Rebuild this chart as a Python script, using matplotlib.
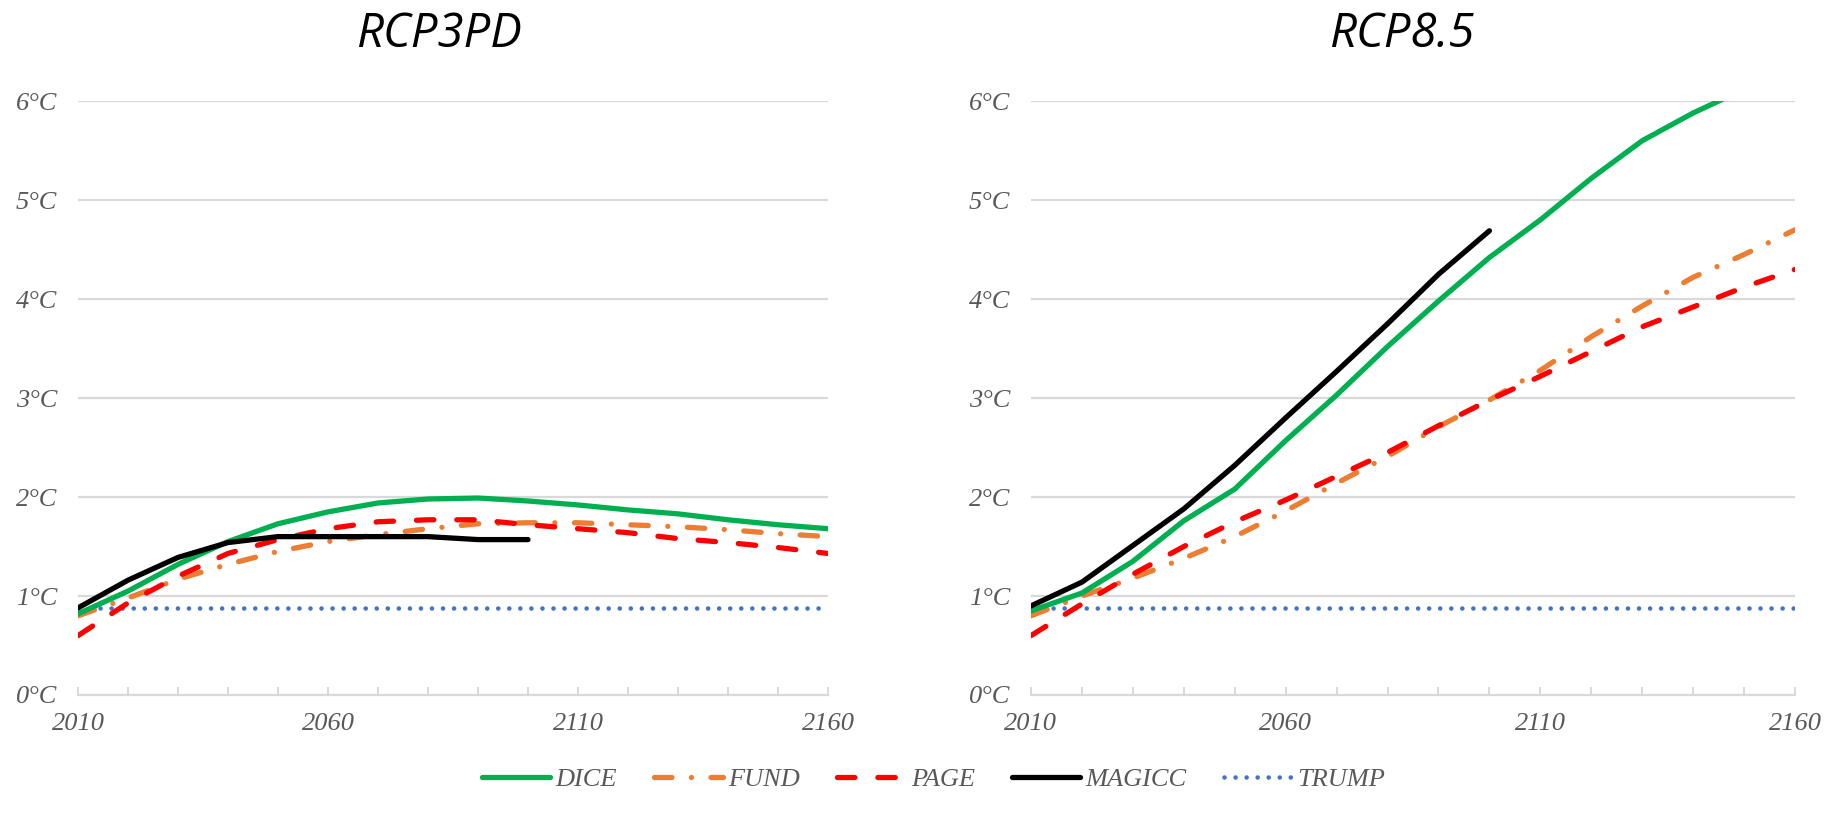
import numpy as np
import matplotlib
matplotlib.use("Agg")
import matplotlib.pyplot as plt
from matplotlib.lines import Line2D

# years on the x axis (decadal values)
years = np.arange(2010, 2161, 10)

# warming under RCP3PD (°C)
dice_3pd = [0.82, 1.05, 1.32, 1.55, 1.73, 1.85, 1.94, 1.98, 1.99, 1.96, 1.92, 1.87, 1.83, 1.77, 1.72, 1.68]
fund_3pd = [0.80, 0.98, 1.17, 1.32, 1.45, 1.55, 1.62, 1.68, 1.73, 1.74, 1.74, 1.72, 1.70, 1.67, 1.63, 1.60]
page_3pd = [0.60, 0.93, 1.20, 1.43, 1.57, 1.68, 1.75, 1.77, 1.77, 1.72, 1.68, 1.64, 1.58, 1.54, 1.49, 1.43]
magicc_3pd = [0.88, 1.16, 1.39, 1.54, 1.60, 1.60, 1.60, 1.60, 1.57, 1.57] + [np.nan] * 6

# warming under RCP8.5 (°C)
dice_85 = [0.85, 1.03, 1.35, 1.76, 2.08, 2.57, 3.03, 3.52, 3.98, 4.42, 4.80, 5.22, 5.60, 5.88, 6.12, np.nan]
fund_85 = [0.80, 1.00, 1.18, 1.38, 1.60, 1.86, 2.14, 2.41, 2.71, 2.98, 3.28, 3.62, 3.93, 4.22, 4.45, 4.70]
page_85 = [0.60, 0.92, 1.22, 1.50, 1.75, 1.97, 2.21, 2.45, 2.72, 2.98, 3.22, 3.47, 3.72, 3.92, 4.12, 4.30]
magicc_85 = [0.90, 1.14, 1.51, 1.88, 2.32, 2.80, 3.27, 3.75, 4.25, 4.69] + [np.nan] * 6

# TRUMP is flat in both scenarios
trump = [0.88] * len(years)

titles = ["RCP3PD", "RCP8.5"]
ytick_vals = [0, 1, 2, 3, 4, 5, 6]
ytick_labels = ["%d°C" % v for v in ytick_vals]
xtick_major = [2010, 2060, 2110, 2160]

grey = "#D9D9D9"
label_col = "#595959"
serif = ["Liberation Serif", "DejaVu Serif"]
title_font = ["Liberation Sans Narrow", "Open Sans", "DejaVu Sans"]

styles = {
    "DICE": dict(color="#00B050", ls="-", lw=3.8),
    "FUND": dict(color="#ED7D31", ls=(0, (3.3, 3.7, 0.01, 3.7)), lw=3.8),
    "PAGE": dict(color="#FF0000", ls=(0, (3.3, 4.35)), lw=3.8),
    "MAGICC": dict(color="black", ls="-", lw=3.8),
    "TRUMP": dict(color="#4472C4", ls=(0, (0.01, 2.4)), lw=3.3),
}

fig = plt.figure(figsize=(18.27, 8.26), dpi=100)
ax1 = fig.add_axes([0.0427, 0.1586, 0.4105, 0.719])
ax2 = fig.add_axes([0.5643, 0.1586, 0.4182, 0.719])

panels = [
    (ax1, {"DICE": dice_3pd, "FUND": fund_3pd, "PAGE": page_3pd, "MAGICC": magicc_3pd, "TRUMP": trump}),
    (ax2, {"DICE": dice_85, "FUND": fund_85, "PAGE": page_85, "MAGICC": magicc_85, "TRUMP": trump}),
]

for ax, series in panels:
    for y in ytick_vals[1:]:
        ax.axhline(y, color=grey, lw=1.6, zorder=0)
    for name in ["TRUMP", "FUND", "PAGE", "DICE", "MAGICC"]:
        st = styles[name]
        ax.plot(years, series[name], color=st["color"], linestyle=st["ls"], lw=st["lw"],
                dash_capstyle="round", solid_capstyle="round", zorder=3)
    ax.set_xlim(2010, 2160)
    ax.set_ylim(0, 6)
    for s in ["top", "right", "left"]:
        ax.spines[s].set_visible(False)
    ax.spines["bottom"].set_color(grey)
    ax.spines["bottom"].set_linewidth(1.6)
    ax.set_yticks(ytick_vals)
    ax.set_yticklabels(ytick_labels)
    ax.set_xticks(xtick_major)
    ax.set_xticklabels([str(x) for x in xtick_major])
    ax.set_xticks(np.arange(2010, 2161, 10), minor=True)
    ax.tick_params(axis="y", length=0, pad=15, labelsize=19, labelcolor=label_col)
    ax.tick_params(axis="x", which="both", direction="in", length=6, width=1.4,
                   color=grey, pad=13, labelsize=19, labelcolor=label_col)
    for lab in ax.get_xticklabels() + ax.get_yticklabels():
        lab.set_family(serif)
        lab.set_style("italic")

fig.text(0.240, 0.958, titles[0], ha="center", va="center", fontsize=34, style="italic",
         family=title_font)
fig.text(0.767, 0.958, titles[1], ha="center", va="center", fontsize=34, style="italic",
         family=title_font)

handles = [Line2D([], [], color=styles[n]["color"], linestyle=styles[n]["ls"], lw=styles[n]["lw"],
                  dash_capstyle="round", solid_capstyle="round") for n in styles]
leg = fig.legend(handles, list(styles.keys()), loc="center", bbox_to_anchor=(0.511, 0.056),
                 ncol=5, frameon=False, handlelength=2.6, handletextpad=0.2,
                 columnspacing=1.4, prop={"family": serif, "style": "italic", "size": 19})
for t in leg.get_texts():
    t.set_color(label_col)

fig.savefig("out.png", dpi=100)
